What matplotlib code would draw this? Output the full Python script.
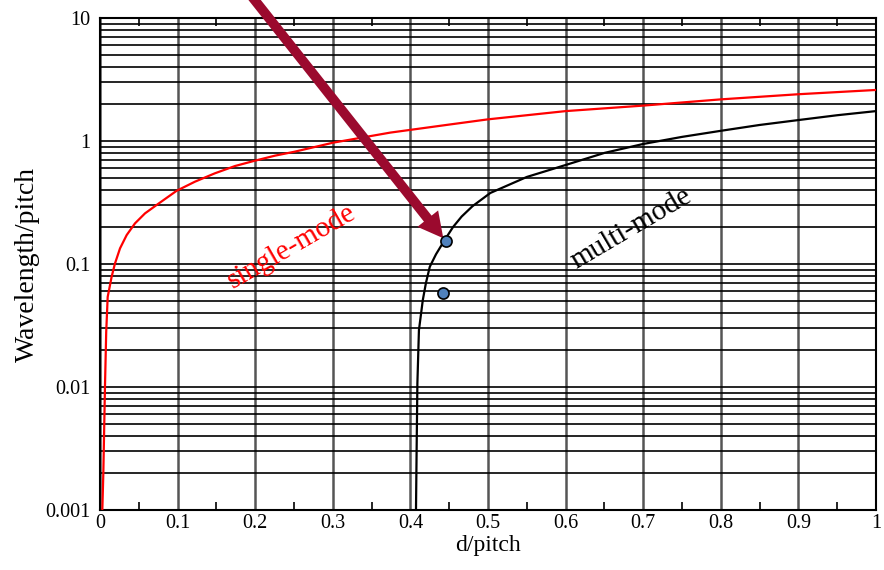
import matplotlib
matplotlib.use("Agg")
import matplotlib.pyplot as plt
from matplotlib.ticker import LogLocator, FixedLocator, NullFormatter, FixedFormatter, MultipleLocator

plt.rcParams['font.family'] = ['Liberation Serif', 'DejaVu Serif']

# single-mode boundary (red)
single_x = [0.003, 0.0043, 0.0064, 0.008, 0.0099, 0.015, 0.0193, 0.0258, 0.0344, 0.0451,
            0.058, 0.073, 0.0988, 0.1224, 0.148, 0.174, 0.1997, 0.2255, 0.251, 0.3007,
            0.374, 0.45, 0.5, 0.6, 0.7, 0.8, 0.9, 1.0]
single_y = [0.001, 0.002, 0.01, 0.028, 0.054, 0.0788, 0.101, 0.134, 0.172, 0.214,
            0.258, 0.302, 0.394, 0.467, 0.546, 0.626, 0.692, 0.76, 0.819, 0.97,
            1.17, 1.36, 1.5, 1.75, 1.94, 2.18, 2.4, 2.6]

# multi-mode boundary (black)
multi_x = [0.4072, 0.408, 0.409, 0.411, 0.416, 0.42, 0.425, 0.433, 0.4437, 0.455,
           0.466, 0.48, 0.503, 0.55, 0.6, 0.65, 0.7, 0.75, 0.8, 0.85, 0.9, 0.95, 1.0]
multi_y = [0.001, 0.003, 0.0107, 0.029, 0.051, 0.07, 0.095, 0.12, 0.155, 0.2,
           0.243, 0.295, 0.378, 0.51, 0.638, 0.8, 0.946, 1.08, 1.21, 1.35, 1.48, 1.62, 1.75]

# measured points
pts_x = [0.4455, 0.4424]
pts_y = [0.155, 0.0585]

# arrow (start outside top, tip at upper point)
arrow_start = (0.189, 16.9)
arrow_tip = (0.4424, 0.162)

x_ticks = [0, 0.1, 0.2, 0.3, 0.4, 0.5, 0.6, 0.7, 0.8, 0.9, 1.0]
x_labels = ['0', '0.1', '0.2', '0.3', '0.4', '0.5', '0.6', '0.7', '0.8', '0.9', '1']
y_ticks = [0.001, 0.01, 0.1, 1, 10]
y_labels = ['0.001', '0.01', '0.1', '1', '10']

fig = plt.figure(figsize=(8.84, 5.70), dpi=100)
ax = fig.add_axes([100/884, 60/570, 776/884, 492/570])

ax.set_yscale('log')
ax.set_xlim(0, 1)
ax.set_ylim(0.001, 10)

ax.xaxis.set_major_locator(FixedLocator(x_ticks))
ax.xaxis.set_major_formatter(FixedFormatter(x_labels))
ax.xaxis.set_minor_locator(MultipleLocator(0.05))
ax.yaxis.set_major_locator(FixedLocator(y_ticks))
ax.yaxis.set_major_formatter(FixedFormatter(y_labels))
ax.yaxis.set_minor_locator(LogLocator(base=10, subs=range(2, 10)))
ax.yaxis.set_minor_formatter(NullFormatter())

ax.grid(which='both', axis='y', color='black', linewidth=1.2)
ax.grid(which='major', axis='x', color='#555555', linewidth=1.8)

ax.tick_params(axis='x', which='both', direction='in', top=True, bottom=True,
               labelsize=14.5, pad=3, colors='black')
ax.tick_params(axis='x', which='major', length=0)
ax.tick_params(axis='x', which='minor', length=6, width=1.2)
ax.tick_params(axis='y', which='both', length=0, labelsize=14.5, pad=7)

for s in ax.spines.values():
    s.set_linewidth(1.5)
    s.set_color('black')

ax.plot(single_x, single_y, color='red', linewidth=1.6, zorder=3)
ax.plot(multi_x, multi_y, color='black', linewidth=1.6, zorder=3)

ax.annotate('', xy=arrow_tip, xytext=arrow_start, annotation_clip=False,
            arrowprops=dict(width=7, headwidth=19, headlength=18, shrink=0,
                            color='#9b0a2e', linewidth=0), zorder=4)

ax.plot(pts_x, pts_y, 'o', markersize=8, markerfacecolor='#4f81bd',
        markeredgecolor='black', markeredgewidth=1.2, zorder=5, clip_on=False)

ax.text(0.247, 0.138, 'single-mode', color='red', fontsize=21, rotation=30,
        ha='center', va='center', rotation_mode='anchor', zorder=4)
ax.text(0.685, 0.195, 'multi-mode', color='black', fontsize=21, rotation=30.5,
        ha='center', va='center', rotation_mode='anchor', zorder=4)

ax.set_xlabel('d/pitch', fontsize=17, labelpad=1)
ax.set_ylabel('Wavelength/pitch', fontsize=20, labelpad=4)

fig.savefig('out.png', dpi=100)
